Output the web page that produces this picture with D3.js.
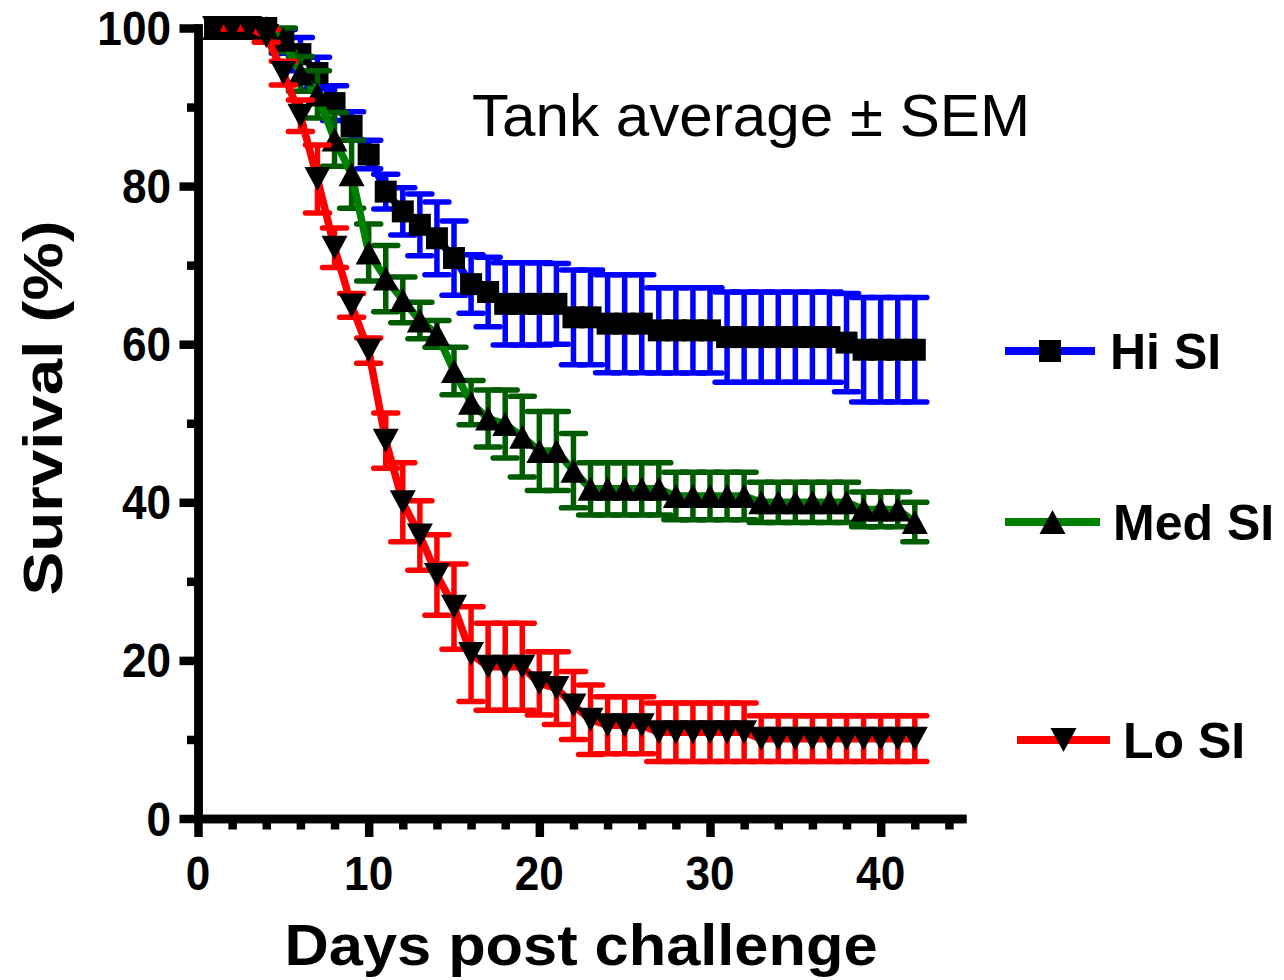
<!DOCTYPE html>
<html><head><meta charset="utf-8">
<script src="https://cdn.jsdelivr.net/npm/d3@7"></script>
<style>
html,body{margin:0;padding:0;background:#fff;}
svg{display:block;font-family:"Liberation Sans",Arial,sans-serif;}
</style></head>
<body><svg id="c" width="1284" height="980"></svg>
<script>
const days = [1,2,3,4,5,6,7,8,9,10,11,12,13,14,15,16,17,18,19,20,21,22,23,24,25,26,27,28,29,30,31,32,33,34,35,36,37,38,39,40,41,42];
const hiMean = [100,100,100,100,98.3,96.7,94.3,90.5,87.6,84.0,79.3,76.8,75.1,73.4,70.9,67.6,66.6,65.1,65.1,65.1,65.1,63.4,63.4,62.6,62.6,62.6,61.75,61.75,61.75,61.75,60.9,60.9,60.9,60.9,60.9,60.9,60.9,60.2,59.3,59.3,59.3,59.3];
const hiSem = [0,0,0,0,1.5,2.1,2.0,2.2,1.8,1.8,2.2,3.0,3.9,4.6,4.7,3.7,4.4,5.2,5.2,5.2,5.1,6.0,6.0,6.2,6.2,6.2,5.4,5.4,5.4,5.4,5.7,5.7,5.7,5.7,5.7,5.7,5.7,6.2,6.6,6.6,6.6,6.6];
const medMean = [100,100,100,100,98.5,94.2,91.6,85.9,81.5,71.6,68.3,65.6,63.0,61.3,56.6,52.6,50.6,49.9,48.3,46.5,46.5,44.0,41.7,41.7,41.7,41.7,41.7,40.8,40.8,40.8,40.8,40.8,40.0,40.0,40.0,40.0,40.0,40.0,39.1,39.1,39.1,37.5];
const medSem = [0,0,0,0,1.5,2.2,3.0,3.4,4.3,3.6,4.2,2.9,2.3,1.7,3.0,2.8,3.6,4.3,5.1,5.0,5.0,4.7,3.3,3.3,3.3,3.3,3.3,3.0,3.0,3.0,3.0,3.0,2.55,2.55,2.55,2.55,2.55,2.55,2.2,2.2,2.2,2.5];
const loMean = [100,100,100,99,94.3,88.9,80.9,72.2,64.9,59.2,47.8,40.0,35.8,30.8,26.8,20.8,19.2,19.2,19.2,17.1,16.5,14.3,12.5,11.8,11.8,11.8,10.9,10.9,10.9,10.9,10.9,10.9,10.1,10.1,10.1,10.1,10.1,10.1,10.1,10.1,10.1,10.1];
const loSem = [0,0,0,0.8,1.5,2.0,4.3,2.5,1.5,1.6,3.5,5.0,4.4,5.1,5.4,6.0,5.5,5.5,5.5,4.0,4.6,4.3,4.4,3.6,3.6,3.6,3.7,3.7,3.7,3.7,3.7,3.7,2.9,2.9,2.9,2.9,2.9,2.9,2.9,2.9,2.9,2.9];

const seriesNames = ["Hi SI","Med SI","Lo SI"];
const xMajor = [0,10,20,30,40];
const xMinor = [2,4,6,8,12,14,16,18,22,24,26,28,32,34,36,38,42,44];
const yMajor = [0,20,40,60,80,100];
const yMinor = [10,30,50,70,90];

const svg = d3.select("#c");
const x = d3.scaleLinear().domain([0,45]).range([198,966]);
const y = d3.scaleLinear().domain([0,100]).range([818.5,28]);

const triUp = {draw(ctx){ctx.moveTo(0,-12);ctx.lineTo(13,12);ctx.lineTo(-13,12);ctx.closePath();}};
const triDown = {draw(ctx){ctx.moveTo(0,12);ctx.lineTo(13,-12);ctx.lineTo(-13,-12);ctx.closePath();}};
const square = {draw(ctx){ctx.rect(-11,-11,22,22);}};

const series = [
  {name:seriesNames[0], mean:hiMean, sem:hiSem, line:"#0000FF", bar:"#0000FF", sym:square},
  {name:seriesNames[1], mean:medMean, sem:medSem, line:"#008000", bar:"#005C00", sym:triUp},
  {name:seriesNames[2], mean:loMean, sem:loSem, line:"#FF0000", bar:"#FF0000", sym:triDown}
];

// axes
const AX = 8.5;
function styleAxis(g){
  g.select(".domain").attr("stroke","#000").attr("stroke-width",AX).attr("stroke-linecap","square");
  g.selectAll(".tick line").attr("stroke","#000").attr("stroke-width",AX);
  g.selectAll(".tick text").remove();
}
const gx = svg.append("g").attr("transform","translate(0,818.5)");
gx.append("g").call(d3.axisBottom(x).tickValues(xMinor).tickSize(11).tickSizeOuter(0).tickFormat("")).call(styleAxis)
  .select(".domain").attr("stroke-linecap","butt");
gx.append("g").call(d3.axisBottom(x).tickValues(xMajor).tickSize(18.5).tickSizeOuter(0).tickFormat("")).call(styleAxis)
  .select(".domain").attr("stroke-linecap","butt");
const gy = svg.append("g").attr("transform","translate(198,0)");
gy.append("g").call(d3.axisLeft(y).tickValues(yMinor).tickSize(11).tickSizeOuter(0).tickFormat("")).call(styleAxis);
gy.append("g").call(d3.axisLeft(y).tickValues(yMajor).tickSize(18.5).tickSizeOuter(0).tickFormat("")).call(styleAxis);

// tick labels
const tl = svg.append("g").attr("font-weight","bold").attr("font-size",48).attr("fill","#000");
yMajor.forEach(v=>{
  tl.append("text").attr("transform",`translate(171,${y(v)+17}) scale(0.92,1)`).attr("text-anchor","end").text(v);
});
xMajor.forEach(v=>{
  tl.append("text").attr("transform",`translate(${x(v)},890) scale(0.92,1)`).attr("text-anchor","middle").text(v);
});

// axis titles
svg.append("text").attr("x",581).attr("y",965).attr("text-anchor","middle").attr("font-weight","bold")
  .attr("font-size",57).attr("textLength",593).attr("lengthAdjust","spacingAndGlyphs").text("Days post challenge");
svg.append("text").attr("transform","translate(62,408) rotate(-90)").attr("text-anchor","middle").attr("font-weight","bold")
  .attr("font-size",56).attr("textLength",375).attr("lengthAdjust","spacingAndGlyphs").text("Survival (%)");
svg.append("text").attr("x",472).attr("y",136).attr("font-size",60)
  .attr("textLength",558).attr("lengthAdjust","spacingAndGlyphs").text("Tank average \u00B1 SEM");

// series
const line = d3.line().x((d,i)=>x(days[i])).y(d=>y(d));
series.forEach(s=>{
  const g = svg.append("g");
  const data = days.map((d,i)=>({d, m:s.mean[i], e:s.sem[i]})).filter(o=>o.e>0);
  g.selectAll("line.v").data(data).join("line")
    .attr("x1",o=>x(o.d)).attr("x2",o=>x(o.d)).attr("y1",o=>y(o.m-o.e)).attr("y2",o=>y(o.m+o.e))
    .attr("stroke",s.bar).attr("stroke-width",5.5);
  ["up","dn"].forEach(k=>{
    g.selectAll("line.c"+k).data(data).join("line")
      .attr("x1",o=>x(o.d)-12).attr("x2",o=>x(o.d)+12)
      .attr("y1",o=>y(k==="up"?o.m+o.e:o.m-o.e)).attr("y2",o=>y(k==="up"?o.m+o.e:o.m-o.e))
      .attr("stroke",s.bar).attr("stroke-width",5.5).attr("stroke-linecap","round");
  });
  g.append("path").attr("d",line(s.mean)).attr("fill","none").attr("stroke",s.line).attr("stroke-width",7.5).attr("stroke-linejoin","round");
  const sym = d3.symbol().type(s.sym);
  g.selectAll("path.m").data(s.mean).join("path").attr("class","m")
    .attr("transform",(d,i)=>`translate(${x(days[i])},${y(d)})`).attr("d",sym()).attr("fill","#000");
});

// legend
const legY = [351,522,740];
const legX1 = [1005,1005,1017], legX2 = [1095,1100,1110], legTx = [1110,1113,1123];
series.forEach((s,i)=>{
  const g = svg.append("g");
  g.append("line").attr("x1",legX1[i]).attr("x2",legX2[i]).attr("y1",legY[i]).attr("y2",legY[i])
    .attr("stroke",s.line).attr("stroke-width",8);
  g.append("path").attr("transform",`translate(${(legX1[i]+legX2[i])/2},${legY[i]})`).attr("d",d3.symbol().type(s.sym)()).attr("fill","#000");
  g.append("text").attr("x",legTx[i]).attr("y",legY[i]+18).attr("font-weight","bold").attr("font-size",50).text(s.name);
});
</script></body></html>
